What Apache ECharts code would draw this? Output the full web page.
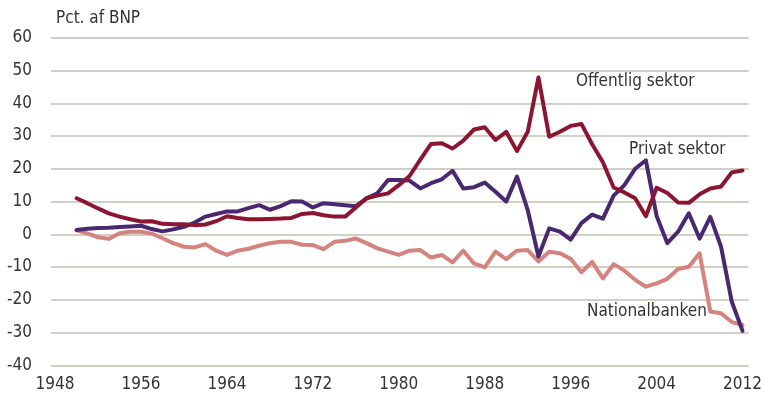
<!DOCTYPE html>
<html>
<head>
<meta charset="utf-8">
<script src="https://cdn.jsdelivr.net/npm/echarts@6/dist/echarts.min.js"></script>
<style>
  html, body { margin: 0; padding: 0; background: #fff; }
  #chart { width: 765px; height: 401px; }
</style>
</head>
<body>
<div id="chart"></div>
<script>
// Years 1950-2012, net position by sector, pct. of GDP
const years = [];
for (let y = 1950; y <= 2012; y++) years.push(y);

const offentligSektor = [
  11.0, 9.5, 7.9, 6.4, 5.4, 4.6, 3.9, 4.0, 3.2, 3.1,
  3.1, 2.8, 3.0, 4.0, 5.5, 5.0, 4.6, 4.6, 4.7, 4.8,
  5.0, 6.2, 6.5, 5.8, 5.4, 5.4, 8.2, 11.0, 11.8, 12.5,
  15.0, 17.8, 22.8, 27.6, 27.8, 26.2, 28.6, 32.0, 32.7, 28.8,
  31.3, 25.4, 31.3, 47.9, 29.8, 31.3, 33.1, 33.7, 27.5, 22.0,
  14.3, 12.8, 11.0, 5.5, 14.2, 12.6, 9.7, 9.6, 12.2, 14.0,
  14.6, 18.9, 19.5
];

const privatSektor = [
  1.3, 1.7, 1.9, 2.0, 2.2, 2.4, 2.6, 1.6, 0.9, 1.5,
  2.3, 3.6, 5.4, 6.2, 7.0, 7.0, 8.0, 8.9, 7.5, 8.6,
  10.1, 10.0, 8.2, 9.5, 9.2, 8.9, 8.6, 11.0, 12.5, 16.6,
  16.6, 16.4, 14.0, 15.6, 16.8, 19.4, 14.0, 14.4, 15.8, 13.0,
  10.0, 17.6, 7.4, -6.8, 1.8, 0.8, -1.6, 3.4, 6.0, 4.8,
  11.8, 15.0, 20.0, 22.6, 5.6, -2.7, 0.8, 6.4, -1.3, 5.3,
  -3.8, -20.6, -29.5
];

const nationalbanken = [
  1.2, 0.3, -0.9, -1.4, 0.3, 0.8, 0.8, 0.2, -1.2, -2.7,
  -3.8, -4.0, -3.0, -5.0, -6.3, -5.0, -4.4, -3.5, -2.7, -2.3,
  -2.3, -3.2, -3.3, -4.5, -2.3, -2.0, -1.3, -2.7, -4.3, -5.3,
  -6.3, -5.0, -4.8, -7.1, -6.3, -8.6, -5.0, -8.9, -10.1, -5.3,
  -7.6, -5.0, -4.8, -8.3, -5.3, -5.8, -7.5, -11.6, -8.4, -13.5,
  -9.1, -11.1, -13.9, -16.0, -15.0, -13.6, -10.6, -9.9, -5.8, -23.6,
  -24.1, -26.8, -27.7
];

const xTickLabels = [1948, 1956, 1964, 1972, 1980, 1988, 1996, 2004, 2012];
const seriesNames = ['Offentlig sektor', 'Privat sektor', 'Nationalbanken'];
const yAxisTitle = 'Pct. af BNP';

const FONT = '"Liberation Sans Narrow", "DejaVu Sans Condensed", "Liberation Sans", sans-serif';
const TEXT = '#333333';
const colors = ['#8c1631', '#4a2870', '#d4837f'];

const pairs = vals => years.map((y, i) => [y, vals[i]]);

const chart = echarts.init(document.getElementById('chart'), null, { renderer: 'canvas' });

chart.setOption({
  animation: false,
  backgroundColor: '#ffffff',
  grid: { left: 51, right: 13, top: 37.8, bottom: 35.7, containLabel: false },
  xAxis: {
    type: 'value',
    min: 1947.62,
    max: 2012.56,
    axisLine: { show: false },
    axisTick: { show: false },
    splitLine: { show: false },
    axisLabel: {
      customValues: xTickLabels,
      color: TEXT,
      fontFamily: FONT,
      fontSize: 17,
      margin: 11,
      formatter: v => String(v)
    }
  },
  yAxis: {
    type: 'value',
    min: -40,
    max: 60,
    interval: 10,
    axisLine: { show: false },
    axisTick: { show: false },
    splitLine: { show: true, lineStyle: { color: '#c3c1ae', width: 1.5 } },
    axisLabel: { color: TEXT, fontFamily: FONT, fontSize: 17, margin: 19 }
  },
  series: [
    { name: seriesNames[2], data: pairs(nationalbanken), color: colors[2] },
    { name: seriesNames[1], data: pairs(privatSektor), color: colors[1] },
    { name: seriesNames[0], data: pairs(offentligSektor), color: colors[0] }
  ].map(s => Object.assign({
    type: 'line',
    showSymbol: false,
    smooth: false,
    lineStyle: { width: 4, color: s.color, join: 'round', cap: 'round' }
  }, s)),
  graphic: [
    { type: 'text', left: 56, top: 10, style: { text: yAxisTitle, fill: TEXT, font: '17px ' + FONT } },
    { type: 'text', left: 576, top: 73, style: { text: seriesNames[0], fill: TEXT, font: '17px ' + FONT } },
    { type: 'text', left: 629, top: 141, style: { text: seriesNames[1], fill: TEXT, font: '17px ' + FONT } },
    { type: 'text', left: 587, top: 303, style: { text: seriesNames[2], fill: TEXT, font: '17px ' + FONT } }
  ]
});
</script>
</body>
</html>
